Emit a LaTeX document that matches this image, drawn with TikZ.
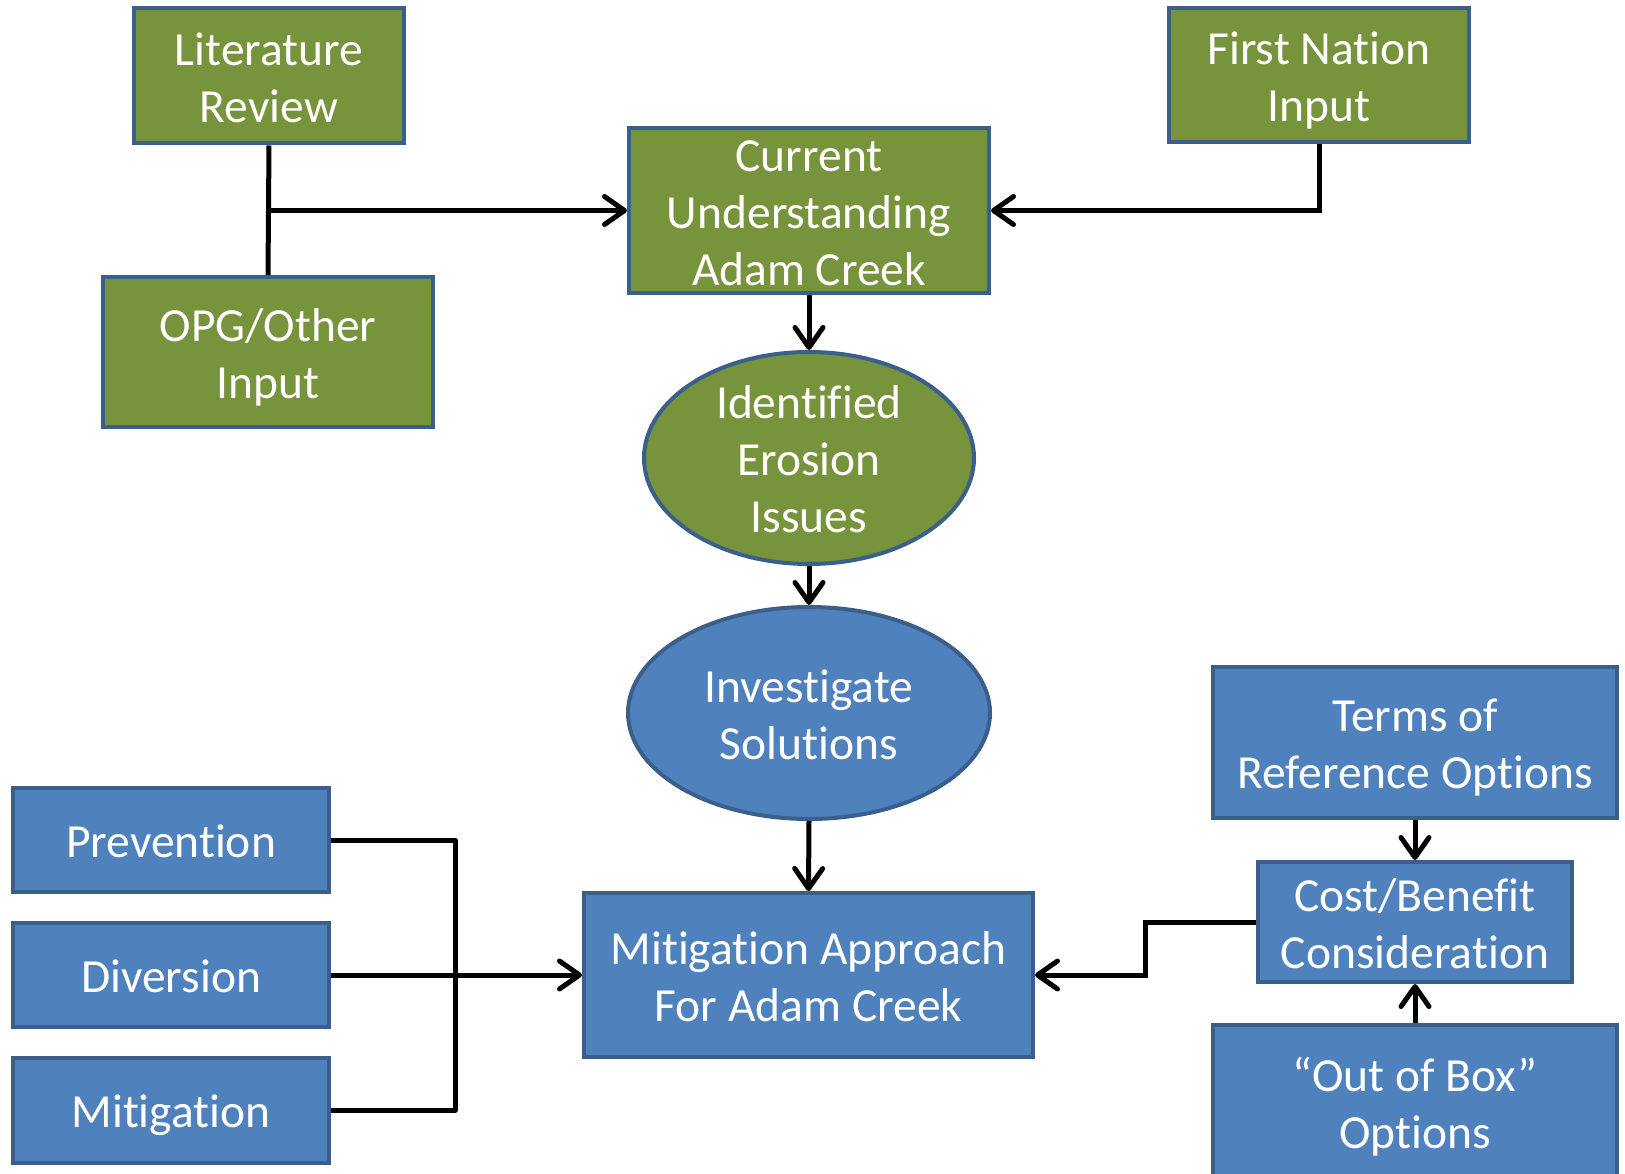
\documentclass[tikz,border=0pt]{standalone}
\usepackage{fontspec}
\setmainfont{Carlito}[Ligatures=NoCommon]
\usetikzlibrary{arrows.meta,shapes.geometric}
\definecolor{gfill}{HTML}{77933C}
\definecolor{bfill}{HTML}{4F81BD}
\definecolor{bline}{HTML}{3A5F8B}
\newcommand{\topfix}{\rule{0pt}{\dimexpr0.75em+12pt\relax}}
\newcommand{\botfix}{\rule[-0.25em]{0pt}{0pt}}
\tikzset{
  base/.style={draw=bline, line width=4pt, text=white, inner sep=-6pt, align=center,
    font=\fontsize{47.5}{57}\selectfont},
  gbox/.style={base, rectangle, fill=gfill},
  bbox/.style={base, rectangle, fill=bfill},
  gell/.style={base, ellipse, fill=gfill, inner sep=-15pt},
  bell/.style={base, ellipse, fill=bfill, inner sep=-15pt},
  conn/.style={line width=5pt, black},
  arr/.style={conn, -{Straight Barb[length=20pt,width=28pt,round]}}
}
\begin{document}
\begin{tikzpicture}[x=1pt,y=-1pt]
\useasboundingbox (0,0) rectangle (1625,1174);
\node[gbox, minimum width=270pt, minimum height=135pt] (lit) at (269,76) {\topfix Literature\\Review\botfix};
\node[gbox, minimum width=330pt, minimum height=150pt] (opg) at (268,352) {\topfix OPG/Other\\Input\botfix};
\node[gbox, minimum width=360pt, minimum height=165pt] (cur) at (809,210.5) {\topfix Current\\Understanding\\Adam Creek\botfix};
\node[gbox, minimum width=300pt, minimum height=134pt] (fn) at (1319,75) {\topfix First Nation\\Input\botfix};
\node[gell, minimum width=330pt, minimum height=212pt] (ident) at (809,458) {\topfix Identified\\Erosion\\Issues\botfix};
\node[bell, minimum width=362pt, minimum height=212pt] (inv) at (809,713) {\topfix Investigate\\Solutions\botfix};
\node[bbox, minimum width=449pt, minimum height=164pt] (mit) at (808.5,975) {\topfix Mitigation Approach\\For Adam Creek\botfix};
\node[bbox, minimum width=316pt, minimum height=104pt] (prev) at (171,840) {\topfix Prevention\botfix};
\node[bbox, minimum width=316pt, minimum height=104pt] (div) at (171,975) {\topfix Diversion\botfix};
\node[bbox, minimum width=316pt, minimum height=105pt] (mitg) at (171,1110) {\topfix Mitigation\botfix};
\node[bbox, minimum width=404pt, minimum height=151pt] (terms) at (1415,742.5) {\topfix Terms of\\Reference Options\botfix};
\node[bbox, minimum width=314pt, minimum height=120pt] (cost) at (1415,922) {\topfix Cost/Benefit\\Consideration\botfix};
\node[bbox, minimum width=404pt, minimum height=154pt] (oob) at (1415,1102) {\topfix “Out of Box”\\Options\botfix};
% connectors
\coordinate (jl) at (lit.south |- cur.west);
\draw[conn] (lit.south) -- (opg.north);
\draw[arr] (jl) -- (cur.west);
\draw[arr] (fn.south) |- (cur.east);
\draw[arr] (cur.south) -- (ident.north);
\draw[arr] (ident.south) -- (inv.north);
\draw[arr] (inv.south) -- (mit.north);
\coordinate (jb) at (455,840);
\draw[conn, line join=round] (prev.east) -- (jb) |- (mitg.east);
\draw[arr] (div.east) -- (mit.west);
\coordinate (jc) at (1145,922);
\draw[arr] (cost.west) -- (jc) |- (mit.east);
\draw[arr] (terms.south) -- (cost.north);
\draw[arr] (oob.north) -- (cost.south);
\end{tikzpicture}
\end{document}
